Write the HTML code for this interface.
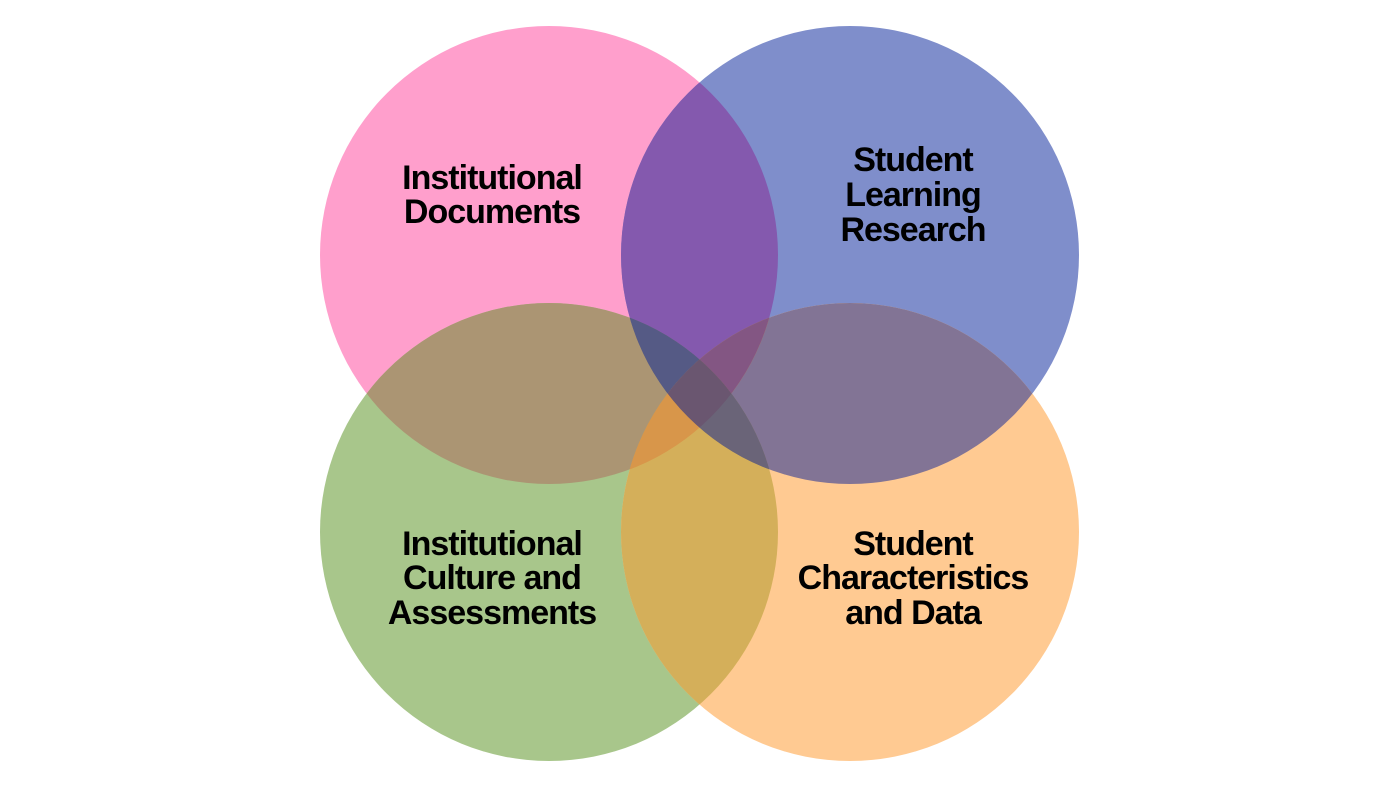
<!DOCTYPE html>
<html><head><meta charset="utf-8"><style>
html,body{margin:0;padding:0;background:#fff;}
svg{display:block;}
text{font-family:"Liberation Sans",Arial,sans-serif;font-weight:bold;font-size:34px;letter-spacing:-1px;fill:#000;text-anchor:middle;}
</style></head><body>
<svg width="1400" height="787" viewBox="0 0 1400 787" xmlns="http://www.w3.org/2000/svg">
<defs>
<clipPath id="P"><circle cx="549" cy="255" r="229"/></clipPath>
<clipPath id="B"><circle cx="850" cy="255" r="229"/></clipPath>
<clipPath id="G"><circle cx="549" cy="532" r="229"/></clipPath>
<clipPath id="O"><circle cx="850" cy="532" r="229"/></clipPath>
</defs>
<rect width="1400" height="787" fill="#fff"/>
<circle cx="549" cy="255" r="229" fill="#FF9FCC"/>
<circle cx="850" cy="255" r="229" fill="#7F8ECB"/>
<circle cx="549" cy="532" r="229" fill="#A8C68B"/>
<circle cx="850" cy="532" r="229" fill="#FFCA92"/>
<!-- pairs -->
<g clip-path="url(#P)"><circle cx="850" cy="255" r="229" fill="#8459AE"/></g>
<g clip-path="url(#P)"><circle cx="549" cy="532" r="229" fill="#AB9573"/></g>
<g clip-path="url(#B)"><circle cx="850" cy="532" r="229" fill="#827495"/></g>
<g clip-path="url(#G)"><circle cx="850" cy="532" r="229" fill="#D4AF5A"/></g>
<g clip-path="url(#B)"><circle cx="549" cy="532" r="229" fill="#6A6478"/></g>
<g clip-path="url(#P)"><circle cx="850" cy="532" r="229" fill="#D8964A"/></g>
<!-- triples -->
<g clip-path="url(#P)"><g clip-path="url(#B)"><circle cx="549" cy="532" r="229" fill="#555A85"/></g></g>
<g clip-path="url(#P)"><g clip-path="url(#B)"><circle cx="850" cy="532" r="229" fill="#835683"/></g></g>
<g clip-path="url(#P)"><g clip-path="url(#G)"><circle cx="850" cy="532" r="229" fill="#D8964A"/></g></g>
<g clip-path="url(#B)"><g clip-path="url(#G)"><circle cx="850" cy="532" r="229" fill="#6A6478"/></g></g>
<!-- quad -->
<g clip-path="url(#P)"><g clip-path="url(#B)"><g clip-path="url(#G)"><circle cx="850" cy="532" r="229" fill="#6A5670"/></g></g></g>

<text x="492" y="189">Institutional</text>
<text x="492" y="223">Documents</text>
<text x="913" y="171">Student</text>
<text x="913" y="206">Learning</text>
<text x="913" y="241">Research</text>
<text x="492" y="555">Institutional</text>
<text x="492" y="589">Culture and</text>
<text x="492" y="624">Assessments</text>
<text x="913" y="555">Student</text>
<text x="913" y="589">Characteristics</text>
<text x="913" y="624">and Data</text>
</svg>
</body></html>
